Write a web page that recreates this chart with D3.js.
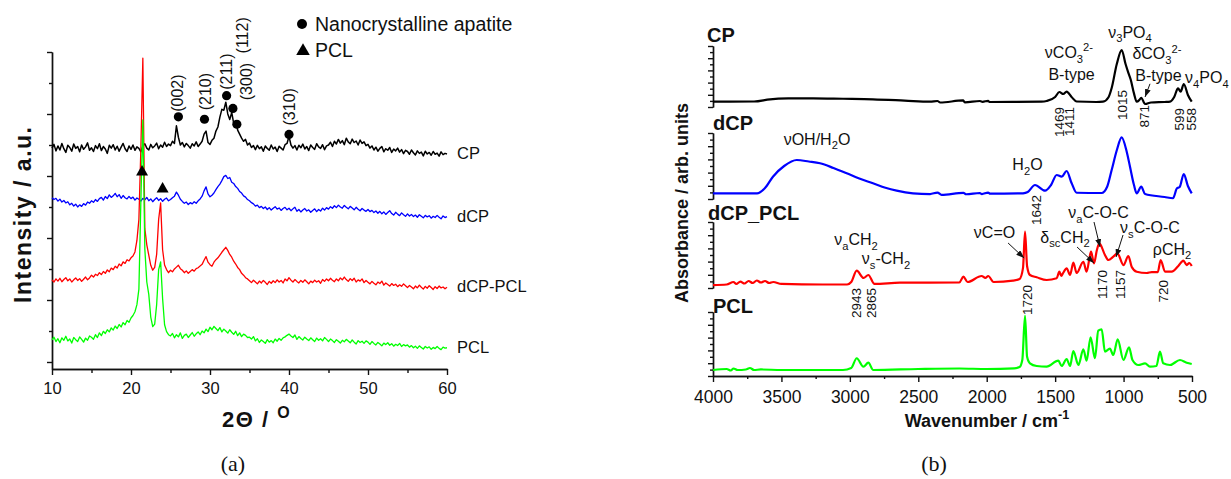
<!DOCTYPE html>
<html>
<head>
<meta charset="utf-8">
<script src="https://cdn.jsdelivr.net/npm/d3@7"></script>
<style>
  body { margin: 0; background: #fff; }
  svg text { font-family: "Liberation Sans", Arial, Helvetica, sans-serif; }
</style>
</head>
<body>
<script>
// ---------- (a) XRD : intensity (counts) every 0.25 deg from 10 to 60 ----------
var thetaStart = 10, thetaStep = 0.25;
var xrdTicks = [10, 20, 30, 40, 50, 60];

var xrdCP = [
  690, 702, 681, 697, 684, 705, 688, 676, 699, 692, 680, 703, 689, 695, 678, 700, 686, 694, 707, 683,
  691, 679, 698, 688, 704, 682, 695, 687, 673, 699, 690, 701, 684, 696, 680, 693, 705, 688, 679, 697,
  686, 700, 683, 694, 689, 678, 697, 704, 690, 684, 702, 691, 697, 706, 688, 700, 693, 709, 695, 703,
  698, 712, 705, 762, 725, 700, 708, 694, 705, 698, 690, 704, 697, 710, 695, 703, 712, 735, 745, 708,
  702, 715, 722, 745, 758, 790, 815, 812, 838, 800, 782, 805, 770, 775, 748, 735, 722, 712, 718, 700,
  706, 692, 698, 685, 699, 688, 694, 680, 697, 689, 683, 700, 687, 693, 679, 696, 690, 684, 701, 705,
  728, 700, 690, 698, 684, 699, 691, 703, 687, 695, 682, 700, 692, 686, 704, 694, 689, 701, 685, 697,
  700, 709, 695, 712, 703, 718, 706, 714, 701, 722, 710, 704, 719, 708, 713, 700, 716, 705, 710, 698,
  702, 690, 697, 684, 693, 680, 689, 695, 678, 688, 683, 692, 676, 687, 681, 690, 677, 685, 672, 683,
  679, 670, 684, 675, 668, 681, 673, 677, 665, 680, 671, 676, 667, 679, 670, 674, 664, 678, 669, 673,
  671
];
var xrdDCP = [
  530, 524, 528, 519, 525, 516, 521, 513, 517, 507, 512, 503, 509, 500, 507, 502, 511, 506, 516, 512,
  520, 515, 524, 518, 527, 531, 522, 534, 527, 539, 531, 536, 544, 533, 540, 528, 537, 530, 526, 534,
  527, 532, 522, 529, 525, 519, 528, 523, 531, 520, 526, 517, 524, 530, 521, 527, 518, 525, 529, 520,
  524, 530, 535, 548, 538, 525, 518, 512, 516, 508, 514, 510, 517, 512, 520, 526, 535, 552, 565, 542,
  533, 538, 545, 556, 566, 574, 585, 598, 602, 592, 595, 580, 576, 566, 560, 550, 545, 536, 532, 524,
  520, 514, 510, 503, 506, 498, 502, 495, 500, 492, 498, 490, 496, 501, 493, 497, 489, 495, 499, 491,
  496, 488, 494, 499, 486, 492, 484, 490, 495, 487, 491, 483, 489, 494, 485, 492, 487, 496, 490, 498,
  493, 501, 496, 504, 498, 506, 500, 496, 505, 499, 494, 502, 497, 491, 499, 493, 488, 495, 490, 486,
  492, 485, 489, 482, 487, 480, 486, 478, 484, 476, 482, 488, 479, 474, 483, 477, 472, 481, 475, 470,
  478, 471, 476, 469, 474, 467, 475, 470, 465, 473, 468, 472, 464, 470, 466, 473, 467, 462, 471, 466,
  469
];
var xrdDCPPCL = [
  265, 258, 268, 261, 270, 259, 266, 272, 262, 268, 258, 265, 271, 263, 269, 260, 267, 274, 265, 271,
  280, 274, 283, 279, 288, 282, 292, 286, 297, 291, 303, 298, 309, 303, 316, 310, 323, 318, 330, 326,
  336, 342, 355, 392, 460, 690, 980, 430, 378, 345, 312, 296, 305, 348, 460, 513, 362, 313, 298, 288,
  296, 291, 300, 306, 312, 301, 296, 288, 294, 286, 292, 298, 293, 301, 304, 310, 315, 328, 340, 322,
  314, 309, 322, 330, 336, 345, 354, 362, 370, 360, 347, 338, 325, 316, 305, 298, 286, 280, 272, 268,
  262, 256, 264, 258, 252, 261, 255, 263, 257, 250, 260, 254, 262, 256, 265, 258, 263, 255, 268, 262,
  272, 264, 258, 266, 260, 255, 263, 257, 265, 259, 252, 261, 256, 264, 258, 262, 254, 266, 260, 268,
  262, 270, 264, 259, 268, 262, 271, 265, 274, 266, 260, 269, 263, 270, 258, 265, 261, 268, 256, 263,
  257, 252, 260, 254, 249, 258, 253, 261, 248, 255, 250, 245, 253, 247, 251, 243, 249, 244, 252, 246,
  240, 247, 242, 236, 245, 239, 248, 241, 235, 244, 238, 246, 240, 234, 243, 237, 245, 239, 242, 236,
  241
];
var xrdPCL = [
  71, 80, 66, 75, 62, 78, 70, 83, 68, 74, 61, 79, 72, 66, 81, 73, 64, 77, 70, 84,
  80, 73, 88, 79, 94, 85, 99, 92, 104, 97, 110, 103, 116, 108, 121, 113, 127, 120, 134, 128,
  142, 150, 162, 185, 235, 520, 781, 365, 258, 218, 145, 114, 122, 186, 298, 323, 205, 120, 98, 88,
  84, 92, 78, 88, 81, 94, 76, 86, 90, 79, 87, 95, 83, 91, 97, 88, 100, 94, 106, 98,
  112, 104, 115, 108, 101, 111, 97, 106, 100, 93, 104, 96, 89, 99, 85, 94, 82, 90, 86, 79,
  80, 74, 82, 68, 75, 63, 71, 66, 60, 72, 64, 69, 62, 74, 67, 76, 70, 78, 81, 86,
  90, 84, 79, 87, 73, 82, 76, 71, 80, 74, 69, 78, 72, 66, 77, 70, 75, 68, 79, 73,
  66, 74, 69, 63, 72, 67, 61, 70, 65, 73, 68, 62, 71, 64, 58, 69, 63, 67, 60, 68,
  64, 57, 66, 60, 55, 63, 58, 52, 61, 56, 62, 54, 59, 51, 57, 53, 60, 50, 56, 52,
  55, 48, 53, 46, 51, 44, 52, 47, 42, 50, 45, 49, 41, 47, 43, 50, 44, 40, 48, 45,
  46
];

var xrdNames = ["CP", "dCP", "dCP-PCL", "PCL"];
var xrdColors = ["#000000", "#0000ff", "#ff0000", "#00ff00"];

// reflections of nanocrystalline apatite and PCL
var apatitePeaks = [26.0, 29.3, 32.1, 32.9, 33.4, 40.0];
var apatiteMarkY = [791, 783, 859, 818, 767, 734];
var hklLabels = ["(002)", "(210)", "(211)", "(112)", "(300)", "(310)"];
var pclPeaks = [21.4, 24.0];
var pclMarkY = [613, 558];

// ---------- (b) FTIR : wavenumber / absorbance ----------
var ftirTicks = [4000, 3500, 3000, 2500, 2000, 1500, 1000, 500];

var cpWn = [4000, 3700, 3583, 3450, 3269, 3050, 2831, 2600, 2414, 2360, 2340, 2173, 2160, 2049, 2030, 1990, 1980,
  1600, 1562, 1500, 1469, 1440, 1416, 1380, 1343, 1200, 1150, 1110, 1087, 1050, 1014, 985, 965, 948, 924, 904,
  885, 871, 843, 800, 700, 660, 630, 602, 583, 560, 530, 502];
var cpAb = [.087, .09, .126, .14, .143, .135, .126, .105, .087, .098, .074, .107, .077, .098, .085, .102, .082,
  .087, .098, .164, .246, .213, .251, .164, .090, .082, .087, .16, .311, .70, .934, .70, .56, .45, .224, .087,
  .115, .152, .049, .074, .082, .087, .164, .307, .251, .377, .197, .087];

var dcpWn = [4000, 3678, 3620, 3562, 3480, 3388, 3300, 3218, 3120, 3023, 2931, 2831, 2740, 2658, 2539, 2414, 2360,
  2330, 2170, 2150, 2050, 2035, 1990, 1975, 1735, 1700, 1647, 1574, 1530, 1489, 1452, 1416, 1380, 1343, 1160,
  1120, 1087, 1049, 1014, 977, 953, 924, 904, 871, 843, 700, 639, 610, 590, 560, 530, 502];
var dcpAb = [.086, .086, .167, .338, .5, .591, .568, .541, .47, .389, .31, .238, .17, .126, .086, .075, .098,
  .064, .094, .072, .091, .075, .098, .08, .086, .106, .212, .126, .212, .364, .338, .424, .242, .095, .091,
  .186, .439, .742, .935, .717, .489, .212, .086, .186, .076, .03, .011, .162, .182, .379, .197, .086];

var dcpPclWn = [4000, 3900, 3850, 3830, 3800, 3770, 3740, 3710, 3680, 3650, 3620, 3590, 3560, 3500, 3200, 3020,
  2990, 2950, 2900, 2865, 2820, 2634, 2200, 2171, 2140, 2037, 2010, 1989, 1950, 1808, 1760, 1735, 1720, 1705,
  1684, 1635, 1562, 1489, 1469, 1455, 1442, 1416, 1391, 1367, 1343, 1294, 1270, 1238, 1216, 1195, 1177, 1136,
  1111, 1075, 1045, 1001, 965, 941, 904, 831, 794, 750, 729, 697, 648, 600, 563, 539, 520, 502];
var dcpPclAb = [.045, .053, .091, .061, .098, .068, .106, .076, .114, .083, .106, .076, .091, .061, .053, .053,
  .091, .262, .152, .197, .061, .08, .083, .171, .091, .182, .152, .182, .091, .111, .136, .30, .853, .33,
  .197, .162, .121, .147, .247, .182, .227, .298, .197, .383, .227, .398, .247, .55, .374, .576, .677, .5,
  .424, .474, .526, .348, .485, .323, .247, .227, .242, .242, .424, .247, .247, .333, .414, .348, .379, .333];

var pclWn = [4000, 3900, 3870, 3850, 3820, 3760, 3730, 3700, 3650, 3500, 3050, 2990, 2950, 2901, 2865, 2829,
  2500, 2200, 2000, 1800, 1760, 1740, 1720, 1705, 1684, 1635, 1562, 1477, 1452, 1416, 1391, 1367, 1330, 1294,
  1270, 1241, 1209, 1185, 1160, 1136, 1100, 1075, 1043, 1001, 960, 935, 892, 843, 807, 760, 734, 710, 661,
  588, 539, 502];
var pclAb = [.094, .109, .086, .117, .094, .102, .125, .094, .102, .094, .094, .125, .277, .145, .208, .094,
  .109, .117, .109, .12, .141, .25, .938, .30, .198, .156, .145, .239, .156, .266, .156, .391, .172, .417,
  .239, .605, .277, .708, .73, .38, .427, .328, .573, .25, .448, .25, .172, .198, .145, .156, .38, .198, .172,
  .25, .208, .188];

var ftirNames = ["CP", "dCP", "dCP_PCL", "PCL"];
var ftirColors = ["#000000", "#0000ff", "#ff0000", "#00ff00"];

// band labels under the spectra (sub-panel, wavenumber)
var bandPanel = [0, 0, 0, 0, 0, 0, 1, 2, 2, 2, 2, 2, 2];
var bandWn = [1469, 1411, 1015, 871, 599, 558, 1642, 2943, 2865, 1720, 1170, 1157, 720];

// ---------- layout ----------
var svg = d3.select("body").append("svg").attr("width", 1231).attr("height", 479);

// helper: text with sub/superscripts, "_x" = subscript, "^x" = superscript
function rich(g, x, y, parts, size, anchor, weight, supSize) {
  var t = g.append("text").attr("x", x).attr("y", y)
    .attr("font-size", size).attr("text-anchor", anchor || "start")
    .attr("font-weight", weight || "normal").attr("fill", "#111");
  var cur = 0;
  parts.forEach(function (p) {
    var kind = p[0] === "_" ? "sub" : p[0] === "^" ? "sup" : null;
    var s = kind ? p.slice(1) : p;
    var off = kind === "sub" ? size * 0.28 : kind === "sup" ? -size * 0.42 : 0;
    t.append("tspan").attr("dy", off - cur)
      .attr("font-size", kind ? (supSize || size * 0.7) : size).text(s);
    cur = off;
  });
  return t;
}

function styleAxis(g, fs) {
  g.selectAll("path, line").attr("stroke", "#111").attr("stroke-width", 1.4);
  g.selectAll("text").attr("font-size", fs).attr("fill", "#111")
    .attr("font-family", '"Liberation Sans", Arial, sans-serif');
}

// ================= panel (a) =================
var gA = svg.append("g");
var xA = d3.scaleLinear().domain([10, 60]).range([52, 447]);
var yA = d3.scaleLinear().domain([-22.6, 1000]).range([369, 52]);

var axA1 = gA.append("g").attr("transform", "translate(0,369)")
  .call(d3.axisBottom(xA).tickValues([15, 25, 35, 45, 55]).tickSize(4).tickFormat("").tickSizeOuter(0));
var axA2 = gA.append("g").attr("transform", "translate(0,369)")
  .call(d3.axisBottom(xA).tickValues(xrdTicks).tickSize(6).tickPadding(7).tickSizeOuter(0));
var axA3 = gA.append("g").attr("transform", "translate(52,0)")
  .call(d3.axisLeft(yA).tickValues(d3.range(100, 1000, 200)).tickSize(3).tickFormat("").tickSizeOuter(0));
var axA4 = gA.append("g").attr("transform", "translate(52,0)")
  .call(d3.axisLeft(yA).tickValues(d3.range(0, 1001, 200)).tickSize(5).tickFormat("").tickSizeOuter(0));
[axA1, axA2, axA3, axA4].forEach(function (g) { styleAxis(g, 16.5); });

var xrdLine = d3.line()
  .x(function (d, i) { return xA(thetaStart + i * thetaStep); })
  .y(function (d) { return yA(d); });

[xrdCP, xrdDCP, xrdDCPPCL, xrdPCL].forEach(function (s, k) {
  gA.append("path").datum(s).attr("d", xrdLine)
    .attr("fill", "none").attr("stroke", xrdColors[k]).attr("stroke-width", k === 0 ? 1.5 : 1.3)
    .attr("stroke-linejoin", "round");
  gA.append("text").attr("x", xA(60) + 10).attr("y", yA(s[s.length - 1]) + 5)
    .attr("font-size", 16.5).attr("fill", "#111").text(xrdNames[k]);
});

// apatite markers and hkl labels
var hklDx = [-1, 1, 0, 9, 10, 0];
var hklGap = [5, 9, 6, 55, 24, 9];
apatitePeaks.forEach(function (p, i) {
  gA.append("circle").attr("cx", xA(p)).attr("cy", yA(apatiteMarkY[i])).attr("r", 4.6).attr("fill", "#000");
  gA.append("text")
    .attr("transform", "translate(" + (xA(p) + hklDx[i]) + "," + (yA(apatiteMarkY[i]) - hklGap[i]) + ") rotate(-90)")
    .attr("dy", "0.35em").attr("font-size", 16).attr("fill", "#111").text(hklLabels[i]);
});
var tri = d3.symbol().type(d3.symbolTriangle).size(62);
pclPeaks.forEach(function (p, i) {
  gA.append("path").attr("d", tri).attr("transform", "translate(" + xA(p) + "," + yA(pclMarkY[i]) + ")")
    .attr("fill", "#000");
});

// legend
gA.append("circle").attr("cx", 302).attr("cy", 24).attr("r", 5).attr("fill", "#000");
gA.append("text").attr("x", 315).attr("y", 31).attr("font-size", 19.5).attr("fill", "#111").text("Nanocrystalline apatite");
gA.append("path").attr("d", d3.symbol().type(d3.symbolTriangle).size(80)).attr("transform", "translate(303,51)").attr("fill", "#000");
gA.append("text").attr("x", 315).attr("y", 57).attr("font-size", 19.5).attr("fill", "#111").text("PCL");

// axis titles
gA.append("text").attr("transform", "translate(31,215) rotate(-90)").attr("text-anchor", "middle")
  .attr("font-size", 23).attr("font-weight", "bold").attr("fill", "#111")
  .attr("textLength", 176).attr("lengthAdjust", "spacing").text("Intensity / a.u.");
rich(gA, 222, 427, ["2Θ / ", "^O"], 22, "start", "bold", 16).attr("letter-spacing", 1.5);
gA.append("text").attr("x", 233).attr("y", 471).attr("text-anchor", "middle")
  .attr("font-size", 22).attr("fill", "#111").text("(a)").style("font-family", '"Liberation Serif", serif');

// ================= panel (b) =================
var gB = svg.append("g");
var xB = d3.scaleLinear().domain([4000, 500]).range([713, 1192]);
var panels = [
  { top: 46, bottom: 107, title: [707, 42] },
  { top: 133, bottom: 199, title: [713, 130] },
  { top: 222, bottom: 288, title: [708, 220] },
  { top: 312, bottom: 376, title: [713, 313] }
];
var yB = panels.map(function (p) { return d3.scaleLinear().domain([0, 1]).range([p.bottom, p.top]); });

var axB1 = gB.append("g").attr("transform", "translate(0,376)")
  .call(d3.axisBottom(xB).tickValues(d3.range(750, 4000, 500)).tickSize(3).tickFormat("").tickSizeOuter(0));
var axB2 = gB.append("g").attr("transform", "translate(0,376)")
  .call(d3.axisBottom(xB).tickValues(ftirTicks).tickFormat(d3.format("d")).tickSize(6).tickPadding(9).tickSizeOuter(0));
styleAxis(axB1, 17.5); styleAxis(axB2, 17.5);

var spectra = [[cpWn, cpAb], [dcpWn, dcpAb], [dcpPclWn, dcpPclAb], [pclWn, pclAb]];
spectra.forEach(function (s, k) {
  var y = yB[k];
  var g1 = gB.append("g").attr("transform", "translate(713,0)")
    .call(d3.axisLeft(y).tickValues([0.1, 0.3, 0.5, 0.7, 0.9]).tickSize(3).tickFormat("").tickSizeOuter(0));
  var g2 = gB.append("g").attr("transform", "translate(713,0)")
    .call(d3.axisLeft(y).tickValues([0, 0.2, 0.4, 0.6, 0.8, 1]).tickSize(5).tickFormat("").tickSizeOuter(0));
  styleAxis(g1, 12); styleAxis(g2, 12);

  var pts = s[0].map(function (w, i) { return [w, s[1][i]]; });
  var line = d3.line().curve(d3.curveMonotoneX)
    .x(function (d) { return xB(d[0]); }).y(function (d) { return y(d[1]); });
  gB.append("path").datum(pts).attr("d", line).attr("fill", "none")
    .attr("stroke", ftirColors[k]).attr("stroke-width", 2.2).attr("stroke-linejoin", "round");

  gB.append("text").attr("x", panels[k].title[0]).attr("y", panels[k].title[1])
    .attr("font-size", 20).attr("font-weight", "bold").attr("fill", "#111").text(ftirNames[k]);
});

// band assignments
var notes = [
  [0, 1399, .80, ["νCO", "_3", "^2-"], "middle"],
  [0, 1380, .45, ["B-type"], "middle"],
  [0, 953, 1.131, ["ν", "_3", "PO", "_4"], "middle"],
  [0, 756, .78, ["δCO", "_3", "^2-"], "middle"],
  [0, 745, .43, ["B-type"], "middle"],
  [0, 551, .393, ["ν", "_4", "PO", "_4"], "start"],
  [1, 3240, .818, ["νOH/H", "_2", "O"], "middle"],
  [1, 1702, .439, ["H", "_2", "O"], "middle"],
  [2, 2955, .65, ["ν", "_a", "CH", "_2"], "middle"],
  [2, 2736, .36, ["ν", "_s", "-CH", "_2"], "middle"],
  [2, 1943, .758, ["νC=O"], "middle"],
  [2, 1428, .682, ["δ", "_sc", "CH", "_2"], "middle"],
  [2, 1183, 1.06, ["ν", "_a", "C-O-C"], "middle"],
  [2, 807, .833, ["ν", "_s", "C-O-C"], "middle"],
  [2, 646, .5, ["ρCH", "_2"], "middle"]
];
notes.forEach(function (n) {
  rich(gB, xB(n[1]), yB[n[0]](n[2]), n[3], 16, n[4]);
});

var bandDx = [0, 2, 1, 3, 1, 7, 1, -1, 3, 2, 2, 18, 1];
var bandTop = [0, 0, .279, .033, -.016, -.016, .06, 0, 0, .045, .273, .273, .121];
bandWn.forEach(function (w, i) {
  gB.append("text")
    .attr("transform", "translate(" + (xB(w) + bandDx[i]) + "," + yB[bandPanel[i]](bandTop[i]) + ") rotate(-90)")
    .attr("text-anchor", "end").attr("dy", "0.35em").attr("font-size", 13.5).attr("fill", "#111").text(w);
});

// arrows
svg.append("defs").append("marker").attr("id", "ah").attr("viewBox", "0 0 8 6")
  .attr("refX", 8).attr("refY", 3).attr("markerWidth", 8).attr("markerHeight", 6)
  .attr("markerUnits", "userSpaceOnUse").attr("orient", "auto")
  .append("path").attr("d", "M0,0L8,3L0,6z").attr("fill", "#111");
var arrows = [
  [0, 807, .38, 843, .164],
  [2, 1844, .682, 1727, .455],
  [2, 1340, .621, 1216, .379],
  [2, 1216, 1.0, 1172, .621],
  [2, 1004, .803, 1055, .47]
];
arrows.forEach(function (a) {
  var y = yB[a[0]];
  gB.append("line").attr("x1", xB(a[1])).attr("y1", y(a[2])).attr("x2", xB(a[3])).attr("y2", y(a[4]))
    .attr("stroke", "#111").attr("stroke-width", 1).attr("marker-end", "url(#ah)");
});

// axis titles
gB.append("text").attr("transform", "translate(688,203) rotate(-90)").attr("text-anchor", "middle")
  .attr("font-size", 18).attr("font-weight", "bold").attr("fill", "#111").text("Absorbance / arb. units");
rich(gB, 987, 427, ["Wavenumber / cm", "^-1"], 18, "middle", "bold");
gB.append("text").attr("x", 934).attr("y", 471).attr("text-anchor", "middle")
  .attr("font-size", 22).attr("fill", "#111").text("(b)").style("font-family", '"Liberation Serif", serif');
</script>
</body>
</html>
